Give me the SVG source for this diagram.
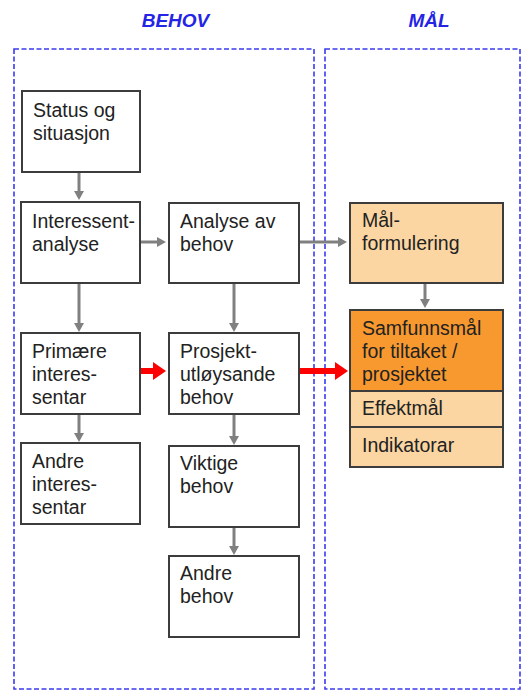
<svg xmlns="http://www.w3.org/2000/svg" width="521" height="691" viewBox="0 0 521 691">
<defs>
<style>
.region{fill:none;stroke:#3a3af0;stroke-width:1.6;stroke-dasharray:5 2.5}
.hdr{font-family:"Liberation Sans",Arial,sans-serif;font-size:19px;font-weight:bold;font-style:italic;fill:#2424e6;text-anchor:middle}
.box{fill:#fff;stroke:#3c3c3c;stroke-width:2}
.lt{fill:#fbd6a3;stroke:#3c3c3c;stroke-width:2}
.dk{fill:#f7992f;stroke:#3c3c3c;stroke-width:2}
.t{font-family:"Liberation Sans",Arial,sans-serif;font-size:19.5px;fill:#222}
.g{stroke:#808080;stroke-width:3;fill:none}
.r{stroke:#ff0000;stroke-width:6;fill:none}
</style>
<marker id="ag" markerWidth="10" markerHeight="10" refX="0" refY="5" orient="auto" markerUnits="userSpaceOnUse">
<path d="M0,0 L9,5 L0,10 Z" fill="#808080"/>
</marker>
<marker id="ar" markerWidth="14" markerHeight="18" refX="0" refY="9" orient="auto" markerUnits="userSpaceOnUse">
<path d="M0,0 L13,9 L0,18 Z" fill="#ff0000"/>
</marker>
</defs>
<rect width="521" height="691" fill="#fff"/>
<g id="regions">
<rect class="region" x="14" y="49" width="300" height="640"/>
<rect class="region" x="325" y="49" width="195" height="640"/>
<text class="hdr" x="175.5" y="27">BEHOV</text>
<text class="hdr" x="429" y="27">MÅL</text>
</g>
<g id="connectors">
<line class="g" x1="79" y1="172" x2="79" y2="191" marker-end="url(#ag)"/>
<line class="g" x1="140" y1="242" x2="157" y2="242" marker-end="url(#ag)"/>
<line class="g" x1="299" y1="242" x2="338" y2="242" marker-end="url(#ag)"/>
<line class="g" x1="79" y1="283" x2="79" y2="323" marker-end="url(#ag)"/>
<line class="g" x1="234" y1="283" x2="234" y2="323" marker-end="url(#ag)"/>
<line class="g" x1="79" y1="414" x2="79" y2="433" marker-end="url(#ag)"/>
<line class="g" x1="234" y1="414" x2="234" y2="436" marker-end="url(#ag)"/>
<line class="g" x1="234" y1="527" x2="234" y2="546" marker-end="url(#ag)"/>
<line class="g" x1="425" y1="283" x2="425" y2="299" marker-end="url(#ag)"/>
<line class="r" x1="140" y1="371" x2="153" y2="371" marker-end="url(#ar)"/>
<line class="r" x1="299" y1="371" x2="335" y2="371" marker-end="url(#ar)"/>
</g>
<g id="status">
<rect class="box" x="22" y="91" width="118" height="81"/>
<text class="t" x="33" y="117">Status og</text>
<text class="t" x="33" y="140">situasjon</text>
</g>
<g id="interessentanalyse">
<rect class="box" x="21" y="202" width="119" height="81"/>
<text class="t" x="32" y="228">Interessent-</text>
<text class="t" x="32" y="251">analyse</text>
</g>
<g id="analyse">
<rect class="box" x="169" y="203" width="130" height="80"/>
<text class="t" x="180" y="228">Analyse av</text>
<text class="t" x="180" y="251">behov</text>
</g>
<g id="primaere">
<rect class="box" x="21" y="333" width="119" height="81"/>
<text class="t" x="32" y="358">Primære</text>
<text class="t" x="32" y="381">interes-</text>
<text class="t" x="32" y="404">sentar</text>
</g>
<g id="prosjekt">
<rect class="box" x="169" y="333" width="130" height="81"/>
<text class="t" x="180" y="358">Prosjekt-</text>
<text class="t" x="180" y="381">utløysande</text>
<text class="t" x="180" y="404">behov</text>
</g>
<g id="andre-interessentar">
<rect class="box" x="21" y="443" width="119" height="81"/>
<text class="t" x="32" y="468">Andre</text>
<text class="t" x="32" y="491">interes-</text>
<text class="t" x="32" y="514">sentar</text>
</g>
<g id="viktige">
<rect class="box" x="169" y="446" width="130" height="81"/>
<text class="t" x="180" y="470">Viktige</text>
<text class="t" x="180" y="493">behov</text>
</g>
<g id="andre-behov">
<rect class="box" x="169" y="556" width="130" height="81"/>
<text class="t" x="180" y="580">Andre</text>
<text class="t" x="180" y="603">behov</text>
</g>
<g id="malformulering">
<rect class="lt" x="350" y="203" width="153" height="80"/>
<text class="t" x="362" y="227">Mål-</text>
<text class="t" x="362" y="250">formulering</text>
</g>
<g id="samfunnsmal">
<rect class="dk" x="350" y="310" width="153" height="81"/>
<text class="t" x="362" y="335">Samfunnsmål</text>
<text class="t" x="362" y="358">for tiltaket /</text>
<text class="t" x="362" y="381">prosjektet</text>
</g>
<g id="effektmal">
<rect class="lt" x="350" y="391" width="153" height="36"/>
<text class="t" x="362" y="415">Effektmål</text>
</g>
<g id="indikatorar">
<rect class="lt" x="350" y="427" width="153" height="40"/>
<text class="t" x="362" y="452">Indikatorar</text>
</g>
</svg>
